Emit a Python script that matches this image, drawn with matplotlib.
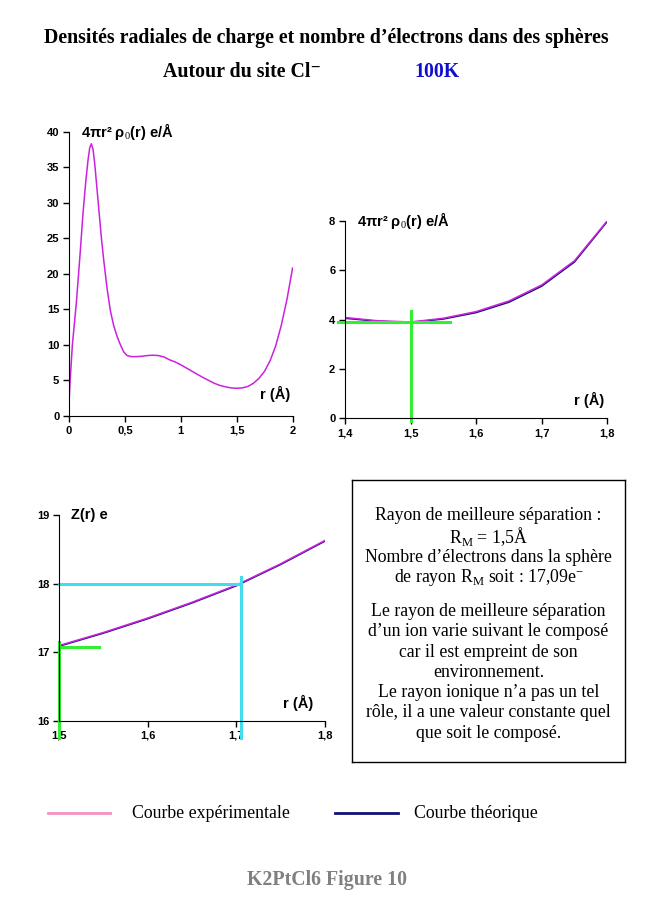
"""K2PtCl6, site Cl- at 100K: radial charge density and electron count in spheres."""

import matplotlib

matplotlib.use("Agg")
import matplotlib.pyplot as plt  # noqa: E402

# --- data ---------------------------------------------------------------
# panel 1: 4 pi r^2 rho0(r), full range
r_full = [0.0, 0.01, 0.03, 0.066, 0.1, 0.125, 0.15, 0.17, 0.185, 0.2, 0.215,
          0.23, 0.25, 0.27, 0.29, 0.31, 0.34, 0.37, 0.4, 0.43, 0.46, 0.49,
          0.52, 0.56, 0.6, 0.65, 0.7, 0.75, 0.8, 0.85, 0.9, 0.95, 1.0, 1.05,
          1.1, 1.15, 1.2, 1.25, 1.3, 1.35, 1.4, 1.45, 1.5, 1.55, 1.6, 1.65,
          1.7, 1.75, 1.8, 1.85, 1.9, 1.95, 2.0]
rho_exp_full = [2.0, 5.0, 10.0, 16.0, 23.0, 28.5, 33.0, 36.0, 37.7, 38.3,
                37.5, 35.5, 32.0, 28.5, 25.0, 22.0, 18.0, 14.8, 12.7, 11.2,
                10.0, 9.0, 8.5, 8.35, 8.35, 8.4, 8.5, 8.55, 8.5, 8.3, 7.9,
                7.6, 7.2, 6.75, 6.3, 5.85, 5.4, 5.0, 4.6, 4.3, 4.1, 3.95, 3.9,
                3.95, 4.15, 4.6, 5.3, 6.3, 7.8, 9.9, 12.8, 16.4, 20.8]

# panel 2: zoom on the minimum
r_zoom = [1.4, 1.45, 1.5, 1.55, 1.6, 1.65, 1.7, 1.75, 1.8]
rho_exp_zoom = [4.08, 3.95, 3.9, 4.05, 4.32, 4.75, 5.4, 6.38, 8.0]
rho_th_zoom = [4.05, 3.93, 3.88, 4.02, 4.28, 4.70, 5.35, 6.33, 7.97]

# panel 3: Z(r)
r_z = [1.5, 1.55, 1.6, 1.65, 1.7, 1.75, 1.8]
z_exp = [17.10, 17.29, 17.50, 17.73, 17.98, 18.29, 18.63]
z_th = [17.09, 17.28, 17.49, 17.72, 17.97, 18.28, 18.62]

R_M = 1.5
RHO_AT_RM = 3.9
Z_AT_RM = 17.08
R_18 = 1.705

C_EXP = "#CC22DD"
C_EXP_LEG = "#F48FC0"
C_TH = "#10107A"
C_GREEN = "#33EE33"
C_CYAN = "#44DDEE"

SANS = "Liberation Sans"
SERIF = ["Liberation Serif", "DejaVu Serif"]
YLAB = r"4$\mathregular{\pi}$r² ρ$_0$(r) e/Å"


def style_axes(ax, xticks, xlabels, yticks):
    for s in ("top", "right"):
        ax.spines[s].set_visible(False)
    ax.set_xticks(xticks)
    ax.set_xticklabels(xlabels)
    ax.set_yticks(yticks)
    ax.tick_params(direction="out", length=4, width=1, labelsize=8, pad=3)
    for lab in ax.get_xticklabels() + ax.get_yticklabels():
        lab.set_fontweight("bold")
        lab.set_family(SANS)


def axis_labels(ax, ylabel, x_y, x_r):
    ax.text(x_y, 1.0, ylabel, transform=ax.transAxes, fontsize=10.5,
            fontweight="bold", family=SANS, va="center")
    ax.text(x_r, 0.05, "r (Å)", transform=ax.transAxes, fontsize=10.5,
            fontweight="bold", family=SANS, ha="right", va="bottom")


plt.rcParams["mathtext.fontset"] = "custom"
plt.rcParams["mathtext.rm"] = "Liberation Serif"

fig = plt.figure(figsize=(6.53, 9.24), dpi=100)

# ---- panel 1 ----
ax1 = fig.add_axes([0.1057, 0.5498, 0.3423, 0.3077])
ax1.plot(r_full, rho_exp_full, color=C_EXP, lw=1.1)
ax1.set_xlim(0, 2)
ax1.set_ylim(0, 40)
style_axes(ax1, [0, 0.5, 1, 1.5, 2], ["0", "0,5", "1", "1,5", "2"],
           range(0, 41, 5))
axis_labels(ax1, YLAB, 0.054, 0.99)

# ---- panel 2 ----
ax2 = fig.add_axes([0.5283, 0.5473, 0.4017, 0.2138])
ax2.plot(r_zoom, rho_th_zoom, color=C_TH, lw=1.1)
ax2.plot(r_zoom, rho_exp_zoom, color=C_EXP, lw=1.1)
ax2.plot([1.39, 1.56], [RHO_AT_RM, RHO_AT_RM], color=C_GREEN, lw=2.2, clip_on=False)
ax2.plot([R_M, R_M], [-0.1, 4.35], color=C_GREEN, lw=2.2, clip_on=False)
ax2.set_xlim(1.4, 1.8)
ax2.set_ylim(0, 8)
style_axes(ax2, [1.4, 1.5, 1.6, 1.7, 1.8], ["1,4", "1,5", "1,6", "1,7", "1,8"],
           [0, 2, 4, 6, 8])
axis_labels(ax2, YLAB, 0.046, 0.99)

# ---- panel 3 ----
ax3 = fig.add_axes([0.0908, 0.2197, 0.4069, 0.2229])
ax3.plot(r_z, z_th, color=C_TH, lw=1.1)
ax3.plot(r_z, z_exp, color=C_EXP, lw=1.1)
ax3.plot([1.5, R_18], [18, 18], color=C_CYAN, lw=2.2, clip_on=False)
ax3.plot([R_18, R_18], [15.75, 18.1], color=C_CYAN, lw=2.2, clip_on=False)
ax3.plot([1.5, 1.545], [Z_AT_RM, Z_AT_RM], color=C_GREEN, lw=2.2, clip_on=False)
ax3.plot([R_M, R_M], [15.75, 17.15], color=C_GREEN, lw=2.2, clip_on=False)
ax3.set_xlim(1.5, 1.8)
ax3.set_ylim(16, 19)
style_axes(ax3, [1.5, 1.6, 1.7, 1.8], ["1,5", "1,6", "1,7", "1,8"],
           [16, 17, 18, 19])
axis_labels(ax3, "Z(r) e", 0.045, 0.955)

# ---- text box ----
box = fig.add_axes([352 / 653, 1 - 762 / 924, 273 / 653, 282 / 924])
box.set_xticks([])
box.set_yticks([])
for s in box.spines.values():
    s.set_linewidth(1.0)
box.text(0.5, 0.905, "Rayon de meilleure séparation :\n"
         "R$_\\mathregular{M}$ = 1,5Å\n"
         "Nombre d’électrons dans la sphère\n"
         "de rayon R$_\\mathregular{M}$ soit : 17,09e$^{\\mathregular{-}}$",
         ha="center", va="top", fontsize=12.8, family=SERIF, linespacing=1.08,
         transform=box.transAxes)
box.text(0.5, 0.563, "Le rayon de meilleure séparation\n"
         "d’un ion varie suivant le composé\n"
         "car il est empreint de son\n"
         "environnement.\n"
         "Le rayon ionique n’a pas un tel\n"
         "rôle, il a une valeur constante quel\n"
         "que soit le composé.",
         ha="center", va="top", fontsize=12.8, family=SERIF, linespacing=1.25,
         transform=box.transAxes)

# ---- titles, legend, footer ----
fig.text(326 / 653, 1 - 38 / 924,
         "Densités radiales de charge et nombre d’électrons dans des sphères",
         ha="center", va="center", fontsize=14.3, fontweight="bold", family=SERIF)
fig.text(242 / 653, 1 - 72 / 924, "Autour du site Cl⁻", ha="center",
         va="center", fontsize=14.3, fontweight="bold", family=SERIF)
fig.text(437 / 653, 1 - 72 / 924, "100K", ha="center", va="center",
         fontsize=14.3, fontweight="bold", family=SERIF, color="#1010CC")

y_leg = 1 - 813 / 924
fig.add_artist(plt.Line2D([48 / 653, 110 / 653], [y_leg, y_leg],
                          color=C_EXP_LEG, lw=2, transform=fig.transFigure))
fig.text(132 / 653, y_leg, "Courbe expérimentale", va="center", fontsize=12.8,
         family=SERIF)
fig.add_artist(plt.Line2D([335 / 653, 398 / 653], [y_leg, y_leg],
                          color=C_TH, lw=2, transform=fig.transFigure))
fig.text(414 / 653, y_leg, "Courbe théorique", va="center", fontsize=12.8,
         family=SERIF)

fig.text(327 / 653, 1 - 880 / 924, "K2PtCl6 Figure 10", ha="center",
         va="center", fontsize=14.3, fontweight="bold", family=SERIF,
         color="#808080")

fig.savefig("out.png", dpi=100)
